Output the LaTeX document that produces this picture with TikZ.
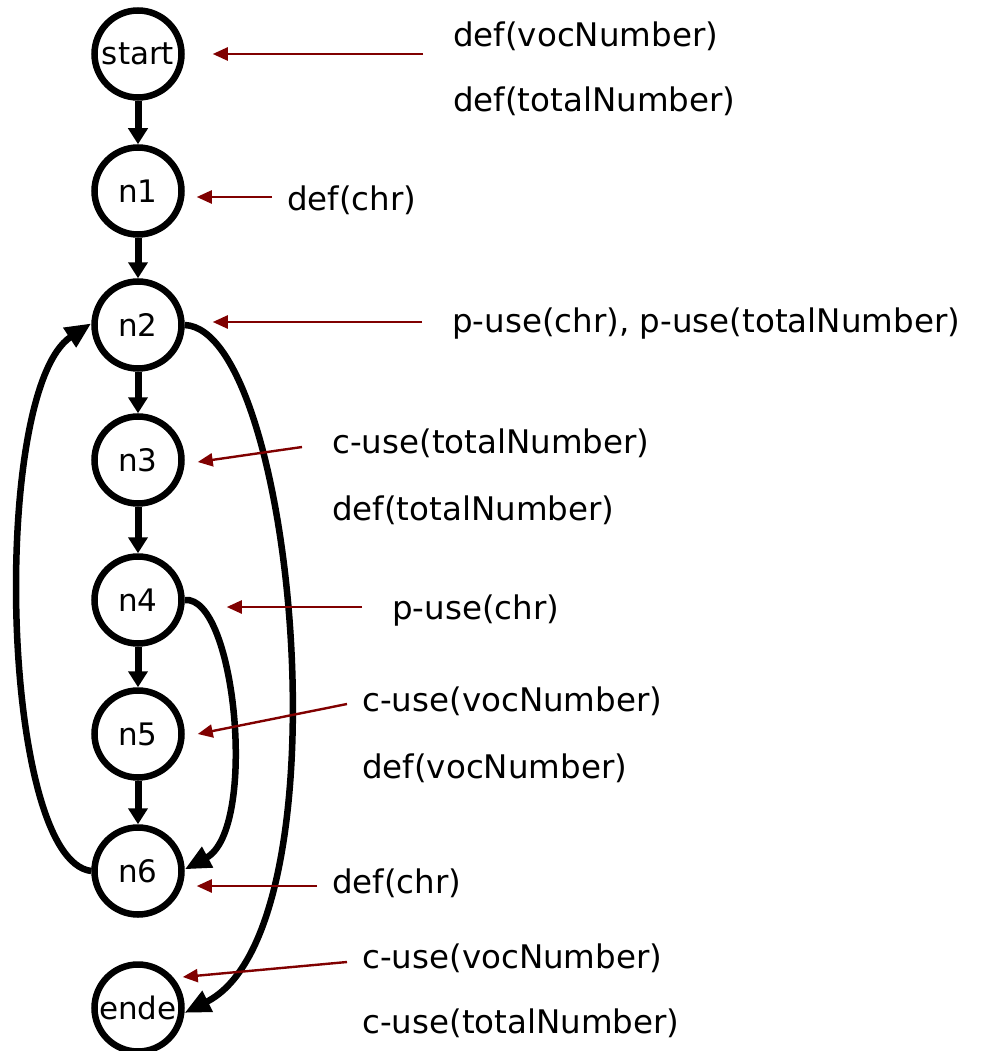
\documentclass[tikz,border=0pt]{standalone}
\usepackage{fontspec}
\setmainfont{DejaVu Sans}
\usetikzlibrary{arrows.meta,calc}
\definecolor{arrred}{RGB}{128,0,0}
\tikzset{
  state/.style={circle,draw,line width=6.5pt,minimum size=87pt,inner sep=0pt,font=\fontsize{31}{36}\selectfont},
  flow/.style={line width=7pt,-{Triangle[length=16pt,width=19pt]}},
  loop/.style={line width=6.5pt,-{Triangle[length=26pt,width=22pt]}},
  note/.style={line width=2.4pt,arrred,-{Triangle[length=15pt,width=13pt]}},
  lab/.style={anchor=base west,inner sep=0pt,font=\fontsize{32.5}{38}\selectfont}
}
\begin{document}
\begin{tikzpicture}[x=1pt,y=-1pt]
\useasboundingbox (0,0) rectangle (984,1051);
% states
\node[state] (start) at (138,54) {start};
\node[state] (n1) at (138,191) {n1};
\node[state] (n2) at (138,325) {n2};
\node[state] (n3) at (138,460) {n3};
\node[state] (n4) at (138,600) {n4};
\node[state] (n5) at (138,734) {n5};
\node[state] (n6) at (138,871) {n6};
\node[state] (ende) at (138,1008) {ende};
% straight flow
\draw[flow] (start) -- (n1);
\draw[flow] (n1) -- (n2);
\draw[flow] (n2) -- (n3);
\draw[flow] (n3) -- (n4);
\draw[flow] (n4) -- (n5);
\draw[flow] (n5) -- (n6);
% loops
\draw[loop] (n2.east) .. controls (295,330) and (350,930) .. (ende.-6);
\draw[loop] (n4.east) .. controls (236,595) and (258,830) .. (n6.2);
\draw[loop] (n6.west) .. controls (0,860) and (-10,390) .. (n2.178);
% labels
\node[lab] (l1) at (453,47) {def(vocNumber)};
\node[lab] (l2) at (453,112) {def(totalNumber)};
\node[lab] (l3) at (287,211) {def(chr)};
\node[lab] (l4) at (452,332) {p-use(chr), p-use(totalNumber)};
\node[lab] (l5) at (332,453) {c-use(totalNumber)};
\node[lab] (l6) at (332,520) {def(totalNumber)};
\node[lab] (l7) at (392,619) {p-use(chr)};
\node[lab] (l8) at (362,711) {c-use(vocNumber)};
\node[lab] (l9) at (362,778) {def(vocNumber)};
\node[lab] (l10) at (332,893) {def(chr)};
\node[lab] (l11) at (362,968) {c-use(vocNumber)};
\node[lab] (l12) at (362,1033) {c-use(totalNumber)};
% note arrows
\coordinate (tS) at (423,54);
\coordinate (t1) at (272,197);
\coordinate (t2) at (422,322);
\coordinate (t3) at (302,447);
\coordinate (t4) at (362,607);
\coordinate (t5) at (347,704);
\coordinate (t6) at (317,886);
\coordinate (tE) at (347,962);
\draw[note] (tS) -- ($(start.east)+(28,0)$);
\draw[note] (t1) -- ($(n1.east)+(12,6)$);
\draw[note] (t2) -- ($(n2.east)+(28,-3)$);
\draw[note] (t3) -- ($(n3.east)+(13,2)$);
\draw[note] (t4) -- ($(n4.east)+(42,7)$);
\draw[note] (t5) -- ($(n5.east)+(13,0)$);
\draw[note] (t6) -- ($(n6.east)+(12,15)$);
\draw[note] (tE) -- ($(ende.east)+(-2,-31)$);
\end{tikzpicture}
\end{document}
